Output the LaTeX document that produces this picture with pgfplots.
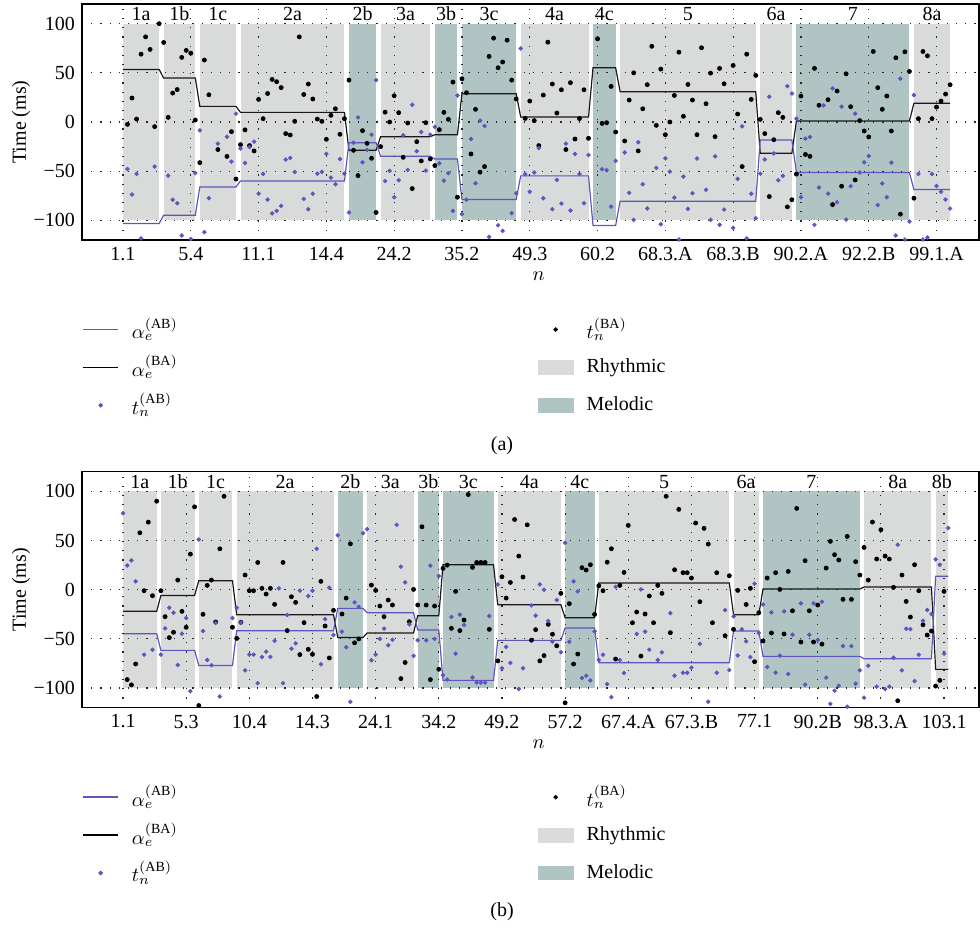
\documentclass[border=0pt]{standalone}
\usepackage{fontspec}
\setmainfont{Liberation Serif}
\usepackage{pgfplots}
\pgfplotsset{compat=1.18}

\definecolor{abblue}{RGB}{98,84,190}
\definecolor{rhy}{RGB}{217,219,218}
\definecolor{mel}{RGB}{176,196,196}

\newcommand{\seclab}[2]{\node[font=\fontsize{10}{12}\selectfont] at (axis cs:#1,110) {#2};}

\pgfplotsset{
  lineimg/.style={legend image code/.code={\draw[##1] (0pt,0pt) -- (17.5pt,0pt); \path (22pt,0pt);}},
  dotimg/.style={legend image code/.code={\fill[##1] (8.75pt,0pt) circle (0.95pt); \path (0pt,0pt) (22pt,0pt);}},
  boximg/.style={legend image code/.code={\fill[##1] (0pt,-3.4pt) rectangle (17.5pt,3.4pt); \path (22pt,0pt);}},
  rhyt/.style={fill=rhy, draw=none, forget plot},
  melo/.style={fill=mel, draw=none, forget plot},
  panel/.style={
    scale only axis, width=448.5pt, height=118pt,
    ymin=-120, ymax=120,
    ytick={-100,-50,0,50,100},
    yticklabels={−100,−50,0,50,100},
    axis on top, grid=major,
    major grid style={black!85, line width=0.6pt, dash pattern=on 0.6pt off 4pt},
    tick style={draw=none},
    axis line style={line width=0.7pt},
    tick label style={font=\fontsize{10}{12}\selectfont},
    label style={font=\fontsize{10}{12}\selectfont},
    ylabel={Time (ms)},
    ylabel style={at={(axis description cs:-0.068,0.5)}, anchor=center},
    xlabel={$n$},
    xlabel style={at={(axis description cs:0.509,-0.155)}, anchor=center},
    legend columns=2,
    legend cell align=left,
    legend style={draw=none, fill=none, at={(0,-0.31)}, anchor=north west,
      inner sep=0pt, font=\fontsize{10}{12}\selectfont, row sep=3pt,
      /tikz/every even column/.append style={column sep=178pt}},
  },
  blk/.style={black!90, line width=0.6pt},
  blu/.style={abblue, line width=0.6pt},
  bdot/.style={only marks, mark=*, mark size=1pt, black},
  udot/.style={only marks, mark=*, mark size=0.9pt, abblue},
}

\begin{document}
\begin{tikzpicture}
\useasboundingbox (-41pt,-344pt) rectangle (449pt,120pt);

% ---------------- panel (a)
\begin{axis}[panel, at={(0,0)},
  xmin=-9.07, xmax=189.4,
  xtick={0,15,...,180},
  xticklabels={1.1,5.4,11.1,14.4,24.2,35.2,49.3,60.2,68.3.A,68.3.B,90.2.A,92.2.B,99.1.A},
]
\addplot[rhyt] coordinates {(0,-100) (8,-100) (8,100) (0,100)} -- cycle;
\addplot[rhyt] coordinates {(9,-100) (16,-100) (16,100) (9,100)} -- cycle;
\addplot[rhyt] coordinates {(17,-100) (25,-100) (25,100) (17,100)} -- cycle;
\addplot[rhyt] coordinates {(26,-100) (49,-100) (49,100) (26,100)} -- cycle;
\addplot[melo] coordinates {(50,-100) (56,-100) (56,100) (50,100)} -- cycle;
\addplot[rhyt] coordinates {(57,-100) (68,-100) (68,100) (57,100)} -- cycle;
\addplot[melo] coordinates {(69,-100) (74,-100) (74,100) (69,100)} -- cycle;
\addplot[melo] coordinates {(75,-100) (87,-100) (87,100) (75,100)} -- cycle;
\addplot[rhyt] coordinates {(88,-100) (103,-100) (103,100) (88,100)} -- cycle;
\addplot[melo] coordinates {(104,-100) (109,-100) (109,100) (104,100)} -- cycle;
\addplot[rhyt] coordinates {(110,-100) (140,-100) (140,100) (110,100)} -- cycle;
\addplot[rhyt] coordinates {(141,-100) (148,-100) (148,100) (141,100)} -- cycle;
\addplot[melo] coordinates {(149,-100) (174,-100) (174,100) (149,100)} -- cycle;
\addplot[rhyt] coordinates {(175,-100) (183,-100) (183,100) (175,100)} -- cycle;

% alpha_e^(BA)
\addplot[blk, forget plot] coordinates {(0,53.5) (8,53.5) (9,44.7) (16,44.7) (17,15.9) (25,15.9) (26,9.8) (49,9.8) (50,-28.8) (56,-28.8) (57,-14.9) (68,-14.9) (69,-12.9) (74,-12.9) (75,28.8) (87,28.8) (88,5.1) (103,5.1) (104,55.2) (109,55.2) (110,30.8) (140,30.8) (141,-31.8) (148,-31.8) (149,1.0) (174,1.0) (175,19) (183,19)};
% alpha_e^(AB)
\addplot[blu, forget plot] coordinates {(0,-103.2) (8,-103.2) (9,-94.8) (16,-94.8) (17,-66) (25,-66) (26,-59.9) (49,-59.9) (50,-21) (56,-21) (57,-34.9) (68,-34.9) (69,-37.6) (74,-37.6) (75,-78.8) (87,-78.8) (88,-54.8) (103,-54.8) (104,-105.2) (109,-105.2) (110,-80.5) (140,-80.5) (141,-18.3) (148,-18.3) (149,-51.4) (174,-51.4) (175,-68.7) (183,-68.7)};

% t_n^(BA)
\addplot[bdot, forget plot] coordinates {
(1,-2.4) (2,24.4) (3,3) (4,69) (5,86.6) (6,73.8) (7,-4.7) (8,100)
(9,80.9) (10,4.7) (11,29.4) (12,33) (13,65.7) (14,72.8) (15,70) (16,2)
(17,-41.3) (18,63) (19,27.7) (21,-28) (23,-35) (24,-9.8) (25,-58)
(26,-23) (27,-8) (28,-24) (29,-29.4) (30,23) (31,3.4) (32,29) (33,43.3) (34,41) (35,35) (36,-11.8) (37,-13.2) (38,0.7) (39,86.6) (40,28) (41,38.6) (42,23.4) (43,3) (44,0.7) (45,-17.6) (46,6.8) (47,13.5) (48,-12.5) (49,3.4)
(50,42.6) (51,-28.8) (52,-54.5) (53,-8.8) (54,-21.7) (55,-36.9) (56,-92)
(57,-25) (58,10) (59,0) (60,26.7) (61,9.5) (62,-35.9) (63,-1) (64,-67.7) (65,-20) (66,-39.6) (67,-0.7) (68,-37.6)
(69,-44.3) (70,-7.8) (71,9.8) (72,2.7) (73,40.6) (74,-76.5)
(75,44) (76,29.8) (77,-32.5) (78,12.9) (79,-51) (80,-45.3) (81,66.7) (82,85.3) (83,55.2) (84,61) (85,83.2) (86,42.6) (87,23.4)
(89,3.7) (90,21.3) (91,1.4) (92,-24) (93,27.4) (94,81.2) (95,38.6) (96,9.1) (97,32.8) (98,-28) (99,40) (100,-17.3) (101,3.5) (102,32.8) (103,-16.6)
(105,84.6) (106,-1.4) (107,-0.7) (108,36.2) (109,-10.2)
(111,-19.3) (112,22.3) (113,50) (114,-29.4) (115,13.5) (116,38) (117,77) (118,-3.4) (119,53.8) (120,-12.9) (121,0) (122,27) (123,71) (124,5.8) (125,38.2) (126,22.3) (127,-12.9) (128,75.5) (129,18.6) (130,49.7) (131,-14.9) (132,54.5) (133,38.9) (135,57.5) (136,8.1) (137,-45.3) (138,69) (139,23) (140,47.4)
(141,2.7) (142,-11.8) (143,-75.8) (144,-18) (145,9.5) (146,4.7) (147,-86.3) (148,-79)
(149,-53) (150,26.4) (151,-33) (152,-34.9) (153,54.5) (154,17) (156,22.7) (157,-84) (158,31.5) (159,-65.3) (160,49) (161,15.6) (162,-58.9) (163,1.4) (164,-9.1) (165,-15.2) (166,71.7) (167,34.9) (168,12.9) (169,26.4) (170,-9.1) (171,65.3) (172,-93.7) (173,71.4) (174,51.4)
(175,-77.5) (176,3.4) (177,71.7) (178,67.3) (179,3.4) (180,15.2) (181,21.3) (182,28.4) (183,37.9)
};
% t_n^(AB)
\addplot[udot, forget plot] coordinates {
(1,-47.7) (2,-73.8) (3,-52.8) (4,-118.4) (7,-45.3)
(10,-54.5) (11,-79) (12,-82.6) (13,-115.4) (15,-119) (16,-51.8)
(17,-8.5) (18,-112) (19,-77.5) (21,-22) (23,-15) (24,-40.3) (25,8.5)
(26,-27) (27,-41.6) (28,-25.4) (29,-20) (30,-72.8) (31,-52.8) (32,-79) (33,-93) (34,-90.4) (35,-85.3) (36,-38.2) (37,-36.5) (38,-50.8) (40,-78.2) (41,-88.7) (42,-73) (43,-52.5) (44,-50.8) (45,-32.5) (46,-56.5) (47,-63.3) (48,-37.6) (49,-52.5)
(50,-92) (51,-21) (52,4.7) (53,-41) (54,-28.4) (55,-12.9) (56,42.6)
(58,-60) (59,-49.7) (60,-76.5) (61,-59.2) (62,-13.5) (63,-48.7) (64,17.6) (65,-29.8) (66,-10.2) (67,-49.4) (68,-12.9)
(69,-5) (70,-42) (71,-59.6) (72,-52) (73,-90.4) (74,27)
(75,-93.7) (76,-79) (77,-17.3) (78,-62.3) (79,1.4) (80,-4) (81,-116.8) (83,-105) (84,-110.7) (86,-92.7) (87,-72.4)
(88,74.8) (89,-53) (90,-71) (91,-51.4) (92,-26.4) (93,-77.5) (95,-88.7) (96,-58.9) (97,-82.9) (98,-22) (99,-90) (100,-32.5) (101,-52.8) (102,-82.6) (103,-33.5)
(106,-48) (107,-49) (108,-86) (109,-39.6)
(111,-31) (112,-72) (113,-99.5) (114,-20.6) (115,-63.3) (116,-88) (118,-46.7) (119,-104) (120,-36.9) (121,-50.4) (122,-76.8) (123,-119.5) (124,-55.5) (125,-88.3) (126,-72.4) (127,-37.2) (129,-69) (130,-99.5) (131,-34.9) (132,-104.6) (133,-89) (135,-107.6) (136,-57.9) (137,-4.4) (138,-118.4) (139,-73) (140,-97.8)
(141,-52.5) (142,-38.2) (143,25.7) (144,-32) (145,-59.2) (146,-54.8) (147,36.5) (148,29)
(149,3.4) (150,-76.5) (151,-16.9) (152,-15.2) (153,-104.6) (154,-66.7) (155,16.9) (156,-72.8) (157,34.2) (158,-81.6) (159,15.6) (160,-99.2) (161,-65.3) (162,8.5) (163,-51.4) (164,-41) (165,-34.5) (167,-84.3) (168,-62.6) (169,-76.5) (170,-41.3) (171,-115.4) (172,44) (173,-119.5) (174,-101.2)
(175,27.4) (176,-52.8) (177,-119.5) (178,-117.4) (179,-52.8) (180,-65) (181,-71) (182,-78.8) (183,-88)
};

\addlegendimage{lineimg, abblue, line width=0.8pt}
\addlegendentry{$\alpha_e^{(\mathrm{AB})}$}
\addlegendimage{dotimg, black}
\addlegendentry{$t_n^{(\mathrm{BA})}$}
\addlegendimage{lineimg, black, line width=0.8pt}
\addlegendentry{$\alpha_e^{(\mathrm{BA})}$}
\addlegendimage{boximg, rhy}
\addlegendentry{Rhythmic}
\addlegendimage{dotimg, abblue}
\addlegendentry{$t_n^{(\mathrm{AB})}$}
\addlegendimage{boximg, mel}
\addlegendentry{Melodic}

\seclab{4}{1a}\seclab{12.5}{1b}\seclab{21}{1c}\seclab{37.5}{2a}\seclab{53}{2b}
\seclab{62.5}{3a}\seclab{71.5}{3b}\seclab{81}{3c}\seclab{95.5}{4a}\seclab{106.5}{4c}
\seclab{125}{5}\seclab{144.5}{6a}\seclab{161.5}{7}\seclab{179}{8a}
\end{axis}
\node[font=\fontsize{10}{12}\selectfont] at (210pt,-103pt) {(a)};

% ---------------- panel (b)
\begin{axis}[panel, at={(0,-233.85pt)},
  xmin=-9.74, xmax=203.3,
  xtick={0,15,...,195},
  xticklabels={1.1,5.3,10.4,14.3,24.1,34.2,49.2,57.2,67.4.A,67.3.B,77.1,90.2B,98.3.A,103.1},
]
\addplot[rhyt] coordinates {(0,-100) (8,-100) (8,100) (0,100)} -- cycle;
\addplot[rhyt] coordinates {(9,-100) (17,-100) (17,100) (9,100)} -- cycle;
\addplot[rhyt] coordinates {(18,-100) (26,-100) (26,100) (18,100)} -- cycle;
\addplot[rhyt] coordinates {(27,-100) (50,-100) (50,100) (27,100)} -- cycle;
\addplot[melo] coordinates {(51,-100) (57,-100) (57,100) (51,100)} -- cycle;
\addplot[rhyt] coordinates {(58,-100) (69,-100) (69,100) (58,100)} -- cycle;
\addplot[melo] coordinates {(70,-100) (75,-100) (75,100) (70,100)} -- cycle;
\addplot[melo] coordinates {(76,-100) (88,-100) (88,100) (76,100)} -- cycle;
\addplot[rhyt] coordinates {(89,-100) (104,-100) (104,100) (89,100)} -- cycle;
\addplot[melo] coordinates {(105,-100) (112,-100) (112,100) (105,100)} -- cycle;
\addplot[rhyt] coordinates {(113,-100) (144,-100) (144,100) (113,100)} -- cycle;
\addplot[rhyt] coordinates {(145,-100) (151,-100) (151,100) (145,100)} -- cycle;
\addplot[melo] coordinates {(152,-100) (175,-100) (175,100) (152,100)} -- cycle;
\addplot[rhyt] coordinates {(176,-100) (192,-100) (192,100) (176,100)} -- cycle;
\addplot[rhyt] coordinates {(193,-100) (196,-100) (196,100) (193,100)} -- cycle;

\addplot[blk, forget plot] coordinates {(0,-22) (8,-22) (9,-5.8) (17,-5.8) (18,9.2) (26,9.2) (27,-25.4) (50,-25.4) (51,-48.5) (57,-48.5) (58,-44) (69,-44) (70,-26.4) (75,-26.4) (76,25.4) (88,25.4) (89,-15.3) (104,-15.3) (105,-28.5) (112,-28.5) (113,6.8) (144,6.8) (145,-25.4) (151,-25.4) (152,0.7) (175,0.7) (176,2.7) (192,2.7) (193,-81) (196,-81)};
\addplot[blu, forget plot] coordinates {(0,-44.7) (8,-44.7) (9,-61.7) (17,-61.7) (18,-77) (26,-77) (27,-41.7) (50,-41.7) (51,-19) (57,-19) (58,-23.4) (69,-23.4) (70,-41) (75,-41) (76,-92.2) (88,-92.2) (89,-51.5) (104,-51.5) (105,-39) (112,-39) (113,-74.2) (144,-74.2) (145,-42) (151,-42) (152,-67.8) (175,-67.8) (176,-70.2) (192,-70.2) (193,13.6) (196,13.6)};

\addplot[bdot, forget plot] coordinates {
(1,-91.4) (2,-96.8) (3,-75.5) (4,57.9) (5,-1) (6,68.7) (7,-6.1) (8,90)
(9,-1) (10,-27.4) (11,-48.7) (12,-43.3) (13,9.8) (14,-22) (15,-38.2) (16,36.2) (17,84.3)
(18,-117.8) (19,-25) (20,4.4) (21,9.8) (22,-32.8) (23,41.6) (24,95) (26,-38.2)
(27,-49.5) (28,-33.2) (29,14.9) (30,-1) (31,-1) (32,27.7) (33,1.4) (34,-4.4) (35,1.4) (36,-14.9) (38,27.7) (39,-41.6) (40,-7.1) (41,-12.9) (42,-66) (43,-33.5) (44,-60.6) (45,-65.7) (46,-108.6) (47,8.5) (48,-36.9) (49,-69.4) (50,-21)
(52,-24.7) (53,-8.5) (54,46.7) (55,-54) (56,-50)
(59,4.7) (60,-0.7) (61,-16.6) (62,-27.4) (63,-10.5) (64,-15.6) (66,-90.4) (67,-74) (68,-32.5) (69,0.3)
(70,-15.6) (71,64) (72,-15.6) (73,-91.4) (74,-16.6) (75,-80.9)
(76,21.7) (77,25) (78,-39.3) (79,-1.7) (80,-41.6) (81,-30.8) (82,96.8) (83,22.7) (84,27.7) (85,27.7) (86,27.7) (87,-40.3)
(89,-72.4) (90,13.2) (91,-8.5) (92,7.4) (93,71.4) (94,34.2) (95,12.9) (96,66) (97,-51.4) (98,-40.6) (99,-72.4) (100,-67) (101,-35.2) (102,-45.3) (103,-57) (104,-3.7)
(105,-115) (106,-14.2) (107,-75.6) (108,-65.4) (109,22.4) (110,20) (111,25.4) (112,-25.1)
(113,4) (114,-1) (115,28) (116,41.7) (117,-70.5) (118,4.4) (119,17.6) (120,65.4) (121,-33.6) (122,-22.7) (123,-67.5) (124,-24.7) (125,-6.4) (126,-33.6) (127,4.4) (128,-3.7) (129,95) (130,-43.7) (131,20.3) (132,81.7) (133,17.3) (134,17.3) (135,11.9) (136,67.8) (137,-12.2) (138,62.4) (139,46.4) (140,-33.6) (141,17.3) (143,-46.8) (144,14.2)
(145,-40.3) (146,-0.7) (148,-15) (149,1.4) (150,-73.2) (151,-23.4)
(152,-52.2) (153,11.9) (154,-44) (155,17.3) (156,0.3) (157,-45) (158,18.6) (159,-21.4) (160,82.7) (161,-53.2) (162,29.5) (163,-21.4) (164,-53.2) (165,-15.6) (166,-55.3) (167,22) (168,49.2) (169,35.6) (170,30.2) (171,-9.8) (172,54.2) (173,-9.8) (174,28.5) (175,14.9)
(176,43) (177,9.8) (178,68.8) (179,31.2) (180,61) (181,34.2) (182,31.2) (183,2.4) (184,-112.9) (185,14.9) (186,-11.9) (187,-27.8) (188,25.4) (189,-1) (190,-35.6) (191,-46.1) (192,-42)
(193,-98) (194,-92.2) (195,-1.7)
};
\addplot[udot, forget plot] coordinates {
(0,77.8) (1,24.7) (2,29.8) (3,8.5) (5,-66) (7,-61)
(9,-66) (10,-39.3) (11,-18.3) (12,-23.4) (13,-76.5) (14,-44.7) (15,-28.8) (16,-103.2)
(18,51) (19,-42) (20,-71.4) (21,-76.8) (22,-33.8) (23,-108.6) (26,-28.8)
(27,-18.3) (28,-33.5) (29,-82) (30,-66) (31,-66) (32,-95) (33,-68.4) (34,-63) (35,-68.4) (36,-52) (37,1.4) (38,-95) (39,-25.7) (40,-60) (41,-54.5) (42,-1) (44,-6.4) (45,-1) (46,41.6) (47,-75.8) (48,-30) (49,2) (50,-46)
(51,55.3) (52,-42.6) (53,-58.5) (54,-114) (55,-12.9) (56,-17.3) (57,57.5)
(58,61.6) (59,-71.7) (60,-66) (61,-50) (62,-39.6) (63,-56.5) (64,-51) (65,66) (66,23.4) (67,7.4) (68,-35.2) (69,-67.3)
(70,-51.4) (72,-51.4) (73,24.4) (74,-50) (75,13.9)
(76,-87) (77,-91.4) (78,-27.7) (79,-65) (80,-25.4) (81,-35.9) (83,-89.3) (84,-94.4) (85,-94.4) (86,-94.4) (87,-26.7)
(89,5.4) (90,-79.9) (91,-58.2) (92,-74.4) (94,-101) (95,-79.9) (97,-15.9) (98,-26.4) (99,5.4) (100,0) (101,-31.8) (102,-52.8) (103,-10.5) (104,-63.6)
(105,47.7) (106,-52.9) (107,8.5) (108,-1.7) (109,-89.8) (110,-87.5) (111,-92.2) (112,-42.4)
(113,-71.5) (114,-66.1) (115,-96) (116,-109.2) (117,3) (118,-71.5) (119,-84.7) (122,-45) (123,0.3) (124,-42.7) (125,-61) (127,-71.5) (128,-63.7) (130,-23.7) (131,-87.5) (133,-84.4) (134,-84.4) (135,-79.3) (137,-55) (139,-114) (141,-84.4) (143,-20.7) (144,-81.7)
(145,-27.1) (146,-66.8) (147,-40.3) (148,-52.5) (149,-68.5) (150,6.1) (151,-44)
(152,-15) (153,-78.6) (154,-23) (155,-84.4) (156,-67) (157,-22) (158,-85.8) (159,-45.8) (161,-13.9) (162,-96.6) (163,-45.8) (164,-13.9) (165,-51.2) (166,-12.2) (167,-89.5) (168,-116) (169,-102.7) (170,-97.6) (171,-57.3) (172,-119) (173,-57.3) (174,-95.6) (175,-82)
(176,-109.8) (177,-77.3) (179,-98.6) (181,-101) (182,-98.6) (183,-69.2) (184,45.8) (185,-82) (186,-39.7) (187,-40) (188,-92.9) (189,-66.1) (190,-31.5) (191,-20.7) (192,-24.7)
(193,30.8) (194,25.4) (195,-65) (196,62.7)
};

\addlegendimage{lineimg, abblue, line width=0.8pt}
\addlegendentry{$\alpha_e^{(\mathrm{AB})}$}
\addlegendimage{dotimg, black}
\addlegendentry{$t_n^{(\mathrm{BA})}$}
\addlegendimage{lineimg, black, line width=0.8pt}
\addlegendentry{$\alpha_e^{(\mathrm{BA})}$}
\addlegendimage{boximg, rhy}
\addlegendentry{Rhythmic}
\addlegendimage{dotimg, abblue}
\addlegendentry{$t_n^{(\mathrm{AB})}$}
\addlegendimage{boximg, mel}
\addlegendentry{Melodic}

\seclab{4}{1a}\seclab{13}{1b}\seclab{22}{1c}\seclab{38.5}{2a}\seclab{54}{2b}
\seclab{63.5}{3a}\seclab{72.5}{3b}\seclab{82}{3c}\seclab{96.5}{4a}\seclab{108.5}{4c}
\seclab{128.5}{5}\seclab{148}{6a}\seclab{163.5}{7}\seclab{184}{8a}\seclab{194.5}{8b}
\end{axis}
\node[font=\fontsize{10}{12}\selectfont] at (210pt,-335.85pt) {(b)};
\end{tikzpicture}
\end{document}
